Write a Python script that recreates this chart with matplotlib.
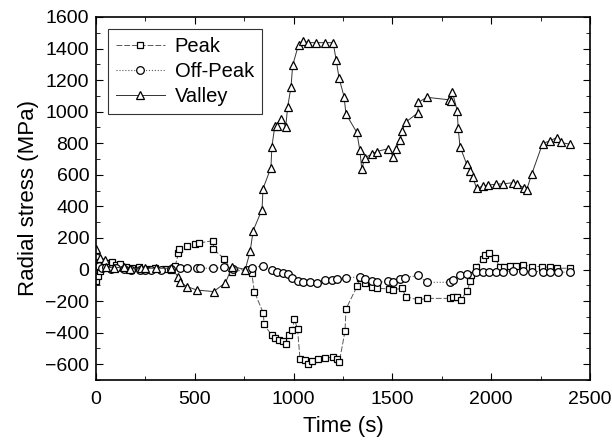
import numpy as np
import matplotlib.pyplot as plt
from matplotlib.ticker import MultipleLocator

plt.rcParams["font.family"] = ["Liberation Sans", "DejaVu Sans"]

# Peak (squares)
peak_t = [0, 10, 20, 40, 60, 80, 100, 120, 150, 180, 215, 240, 265, 300, 350, 380, 400,
          417, 420, 459, 501, 523, 594, 594, 650, 686, 762, 788, 801, 847, 850, 889, 906,
          925, 948, 960, 977, 994, 1004, 1020, 1032, 1058, 1074, 1091, 1125, 1159, 1201,
          1218, 1231, 1260, 1265, 1322, 1336, 1361, 1395, 1420, 1483, 1505, 1547, 1569,
          1631, 1673, 1791, 1805, 1828, 1845, 1879, 1893, 1896, 1923, 1957, 1968, 1990,
          2019, 2044, 2064, 2095, 2124, 2162, 2205, 2255, 2297, 2331, 2398]
peak_v = [-70, -40, -10, 30, 40, 50, 30, 35, 15, 10, 15, 0, 5, 10, 5, 0, 20,
          104, 127, 147, 161, 168, 183, 127, 68, -13, -2, -23, -140, -278, -348, -416, -437,
          -445, -454, -475, -416, -384, -314, -380, -565, -575, -601, -582, -569, -561, -554,
          -565, -586, -391, -250, -104, -51, -87, -108, -119, -123, -129, -119, -172,
          -193, -183, -183, -172, -172, -193, -136, -76, -38, 19, 68, 93, 104,
          76, 13, 13, 25, 25, 30, 19, 19, 13, 8, 8]

# Off-Peak (circles)
off_t = [0, 15, 30, 50, 75, 100, 140, 175, 220, 250, 280, 330, 380, 425, 459, 510, 527,
         594, 645, 694, 762, 788, 843, 889, 914, 944, 970, 990, 1024, 1049, 1083, 1117,
         1159, 1192, 1218, 1265, 1336, 1361, 1395, 1420, 1479, 1505, 1538, 1564, 1631,
         1673, 1791, 1808, 1842, 1876, 1923, 1957, 1990, 2024, 2061, 2112, 2162, 2205,
         2260, 2297, 2339, 2398]
off_v = [40, 20, 10, 15, 5, 10, 5, 0, -5, 0, 0, 0, 5, 8, 8, 8, 8,
         8, 13, 5, 0, 8, 25, 0, -17, -23, -30, -55, -76, -81, -81, -87,
         -66, -66, -62, -55, -45, -59, -70, -81, -76, -81, -59, -51, -38,
         -81, -81, -66, -34, -30, -17, -13, -17, -17, -17, -8, -8, -13,
         -13, -17, -17, -17]

# Valley (triangles)
val_t = [0, 20, 45, 50, 90, 140, 170, 225, 250, 305, 380, 415, 425, 460, 510, 595, 655,
         690, 755, 780, 795, 840, 845, 885, 890, 905, 915, 935, 960, 970, 987, 995, 1025,
         1045, 1075, 1115, 1160, 1200, 1215, 1230, 1255, 1265, 1320, 1335, 1345, 1360,
         1395, 1420, 1480, 1505, 1520, 1540, 1548, 1570, 1628, 1632, 1673, 1788, 1797,
         1803, 1828, 1833, 1842, 1876, 1893, 1906, 1926, 1960, 1985, 2024, 2061, 2112,
         2129, 2166, 2179, 2205, 2260, 2297, 2331, 2351, 2398]
val_v = [130, 76, 62, 19, 8, 19, 4, 8, 8, 8, 8, -45, -80, -108, -130, -140, -83,
         19, 0, 115, 246, 380, 512, 645, 779, 911, 911, 953, 905, 1032, 1159, 1293, 1425,
         1448, 1437, 1437, 1437, 1437, 1329, 1212, 1096, 985, 868, 756, 635, 709,
         730, 747, 766, 713, 766, 822, 879, 936, 992, 1059, 1091, 1075, 1070,
         1127, 1006, 894, 779, 667, 624, 588, 514, 529, 535, 540, 543, 550,
         543, 518, 503, 603, 798, 815, 836, 805, 794]

fig = plt.figure(figsize=(6.12, 4.46), dpi=100)
ax = fig.add_axes([0.157, 0.148, 0.807, 0.814])

ax.plot(peak_t, peak_v, color="0.35", lw=0.7, ls=(0, (6, 2)), marker="s", ms=5,
        mfc="white", mec="black", mew=0.9, label="Peak")
ax.plot(off_t, off_v, color="0.35", lw=0.8, ls=":", marker="o", ms=5.5,
        mfc="white", mec="black", mew=0.9, label="Off-Peak")
ax.plot(val_t, val_v, color="0.2", lw=0.7, ls="-", marker="^", ms=6,
        mfc="white", mec="black", mew=0.9, label="Valley")

ax.set_xlim(0, 2500)
ax.set_ylim(-700, 1600)
ax.xaxis.set_major_locator(MultipleLocator(500))
ax.xaxis.set_minor_locator(MultipleLocator(250))
ax.yaxis.set_major_locator(MultipleLocator(200))
ax.yaxis.set_minor_locator(MultipleLocator(100))
ax.tick_params(which="both", direction="in", top=True, right=True, labelsize=14)
ax.tick_params(which="major", length=5, pad=5)
ax.tick_params(axis="x", which="major", pad=8)
ax.tick_params(which="minor", length=3)
for s in ax.spines.values():
    s.set_linewidth(1.2)

ax.set_xlabel("Time (s)", fontsize=16, labelpad=6)
ax.set_ylabel("Radial stress (MPa)", fontsize=16, labelpad=4)

leg = ax.legend(loc="upper left", fontsize=14.5, frameon=True, fancybox=False,
                edgecolor="black", handlelength=2.4, borderaxespad=0.6,
                labelspacing=0.3, handletextpad=0.5, borderpad=0.4)
leg.get_frame().set_linewidth(0.8)

fig.savefig("out.png", dpi=100)
